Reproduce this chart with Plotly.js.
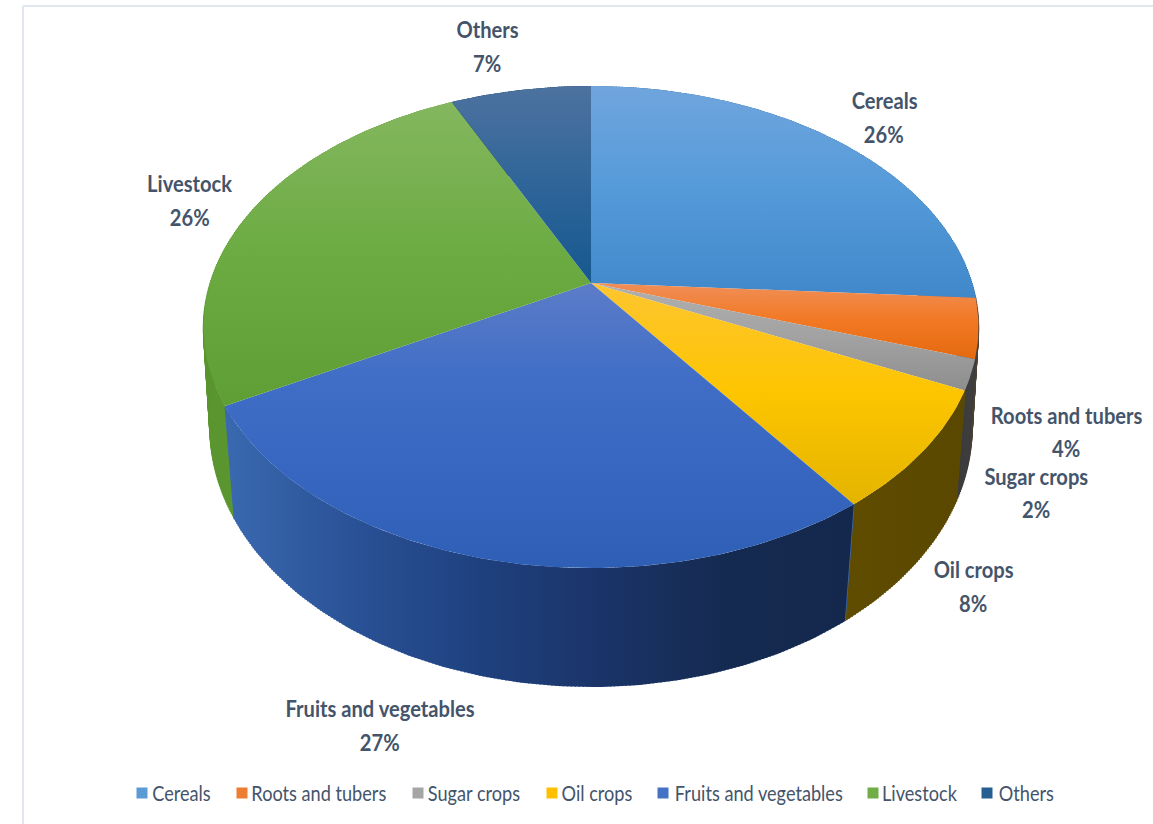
<!DOCTYPE html>
<html>
<head>
<meta charset="utf-8">
<script src="https://cdn.plot.ly/plotly-3.0.1.min.js"></script>
<style>html,body{margin:0;padding:0;background:#fff}#chart{width:1153px;height:824px}</style>
</head>
<body>
<div id="chart"></div>
<script>
// Production shares, in percent, clockwise from twelve o'clock
const categories = ["Cereals", "Roots and tubers", "Sugar crops", "Oil crops", "Fruits and vegetables", "Livestock", "Others"];
const shares = [26, 4, 2, 8, 27, 26, 7];

// Flat key colours for the legend swatches
const swatchColors = ["#5b9bd5", "#ed7d31", "#a5a5a5", "#ffc000", "#4472c4", "#70ad47", "#255e91"];
// Light-to-dark ramp down each top face
const topRamps = [
  ["#70a5dd", "#549ad9", "#4088ca"],
  ["#f08f58", "#f27823", "#e4690f"],
  ["#b0b0b0", "#a2a2a2", "#8e8e8e"],
  ["#fec530", "#fdc500", "#e4b400"],
  ["#5c7cc8", "#406ec6", "#3766c0", "#2e5fb5"],
  ["#84b75f", "#6cab42", "#5e9e34"],
  ["#4d729f", "#2f6599", "#15588f"]
];
// Left-to-right ramp around each outer wall
const wallRamps = [
  ["#2f6ea5", "#2f6ea5"],
  ["#4a4038", "#3d3d3d"],
  ["#3a3a3a", "#3f3f3f"],
  ["#5f4c00", "#5a4800"],
  ["#3a69b0", "#2a5297", "#1f417f", "#1a3468", "#152a50", "#14284d"],
  ["#5a9530", "#5c9a30"],
  ["#163a60", "#163a60"]
];

// Perspective disc: the rim of the top face and the rim of the base
const centerX = 591;
const topRim = { cy: 283, rx: 381, ry: 233, k: 0.1827 };
const baseRim = { cy: 387, rx: 376, ry: 252, k: 0.16 };

function project(rim, deg) {
  const a = deg * Math.PI / 180, u = Math.sin(a), v = Math.cos(a), w = 1 + rim.k * v;
  return [centerX + rim.rx * u / w, rim.cy - rim.ry * v / w];
}
function arc(rim, from, to) {
  const n = Math.max(2, Math.ceil(Math.abs(to - from))), pts = [];
  for (let i = 0; i <= n; i++) pts.push(project(rim, from + (to - from) * i / n));
  return pts;
}

// Slice boundaries in degrees, accumulated from the shares
const total = shares.reduce((s, v) => s + v, 0);
let running = 0;
const spans = shares.map(v => { const from = running; running += v; return [from * 360 / total, running * 360 / total]; });

const ramp = colors => colors.map((c, i) => [i / (colors.length - 1), c]);
function polygon(x, y, fillgradient) {
  return {
    type: "scatter", mode: "lines", x, y,
    fill: "toself", fillgradient, line: { width: 0 }, hoverinfo: "skip", showlegend: false
  };
}

// Upright rules down a wall; they fill out the silhouette where the wall turns away
function wallRules(from, to, color) {
  const x = [], y = [];
  for (let d = from; d <= to; d += 0.5) {
    const a = project(topRim, d), b = project(baseRim, d);
    x.push(a[0], b[0], null); y.push(a[1], b[1], null);
  }
  return { type: "scatter", mode: "lines", x, y, line: { color, width: 1.5 }, hoverinfo: "skip", showlegend: false };
}

// Outer walls, furthest first so the nearer ones overlap them
const wallOrder = spans.map((s, i) => i).sort((a, b) =>
  Math.cos((spans[b][0] + spans[b][1]) * Math.PI / 360) - Math.cos((spans[a][0] + spans[a][1]) * Math.PI / 360));
const walls = [];
wallOrder.forEach(i => {
  const [from, to] = spans[i];
  const outline = arc(topRim, from, to).concat(arc(baseRim, to, from));
  const xs = outline.map(p => p[0]), ys = outline.map(p => p[1]);
  const gradient = { type: "horizontal", start: Math.min(...xs), stop: Math.max(...xs), colorscale: ramp(wallRamps[i]) };
  walls.push(wallRules(from, to, wallRamps[i][0]));
  walls.push(polygon(xs, ys, gradient));
});

// Top faces: each slice fans out from the projected centre of the disc
const faces = spans.map(([from, to], i) => {
  const pts = [[centerX, topRim.cy]].concat(arc(topRim, from, to));
  const xs = pts.map(p => p[0]), ys = pts.map(p => p[1]);
  return polygon(xs, ys, { type: "vertical", start: Math.min(...ys), stop: Math.max(...ys), colorscale: ramp(topRamps[i]) });
});

// Legend row
const legendY = 792;
const swatchX = [142, 242, 418, 552, 663, 873, 987];
const legendTextX = [181, 319, 474, 597, 759, 920, 1026];
const legendSwatches = {
  type: "scatter", mode: "markers", x: swatchX, y: swatchX.map(() => 793),
  marker: { symbol: "square", size: 11, color: swatchColors }, hoverinfo: "skip", showlegend: false
};

const FONT = "Lato, Liberation Sans, sans-serif";
const INK = "#44546a";
const LABEL_SIZE = 23, LEGEND_SIZE = 22;
const text = (x, y, t, size, weight) => ({
  x, y, xref: "x", yref: "y", text: t, showarrow: false,
  xanchor: "center", yanchor: "middle", font: { family: FONT, size, color: INK, weight }
});

// Data label centres: [x, name line y, value line y]
const labelSpots = [[884, 100, 134], [1066, 415, 448], [1036, 476, 509], [973, 569, 603], [380, 708, 742], [190, 183, 217], [487, 29, 63]];
const annotations = [];
categories.forEach((name, i) => {
  const [x, y1, y2] = labelSpots[i];
  annotations.push(text(x, y1, name, LABEL_SIZE, 700));
  annotations.push(text(x, y2, shares[i] + "%", LABEL_SIZE, 700));
  annotations.push(text(legendTextX[i], legendY, name, LEGEND_SIZE, 400));
});

const layout = {
  width: 1153, height: 824, margin: { l: 0, r: 0, t: 0, b: 0 },
  paper_bgcolor: "#fff", plot_bgcolor: "#fff", showlegend: false,
  xaxis: { range: [0, 1153], visible: false, fixedrange: true },
  yaxis: { range: [824, 0], visible: false, fixedrange: true },
  annotations,
  shapes: [
    { type: "line", xref: "x", yref: "y", x0: 23, x1: 1153, y0: 6, y1: 6, line: { color: "#e2e6ef", width: 2 } },
    { type: "line", xref: "x", yref: "y", x0: 23, x1: 23, y0: 6, y1: 824, line: { color: "#e2e6ef", width: 2 } }
  ]
};

// The labels use a tall, narrow letterform, so squeeze the set type horizontally
const squeezeBySize = { [LABEL_SIZE]: 0.875, [LEGEND_SIZE]: 0.825 };
Plotly.newPlot("chart", walls.concat(faces, [legendSwatches]), layout, { displayModeBar: false, staticPlot: true }).then(() => {
  document.querySelectorAll("#chart .annotation-text").forEach(el => {
    const size = parseFloat(getComputedStyle(el).fontSize);
    el.style.transformBox = "fill-box";
    el.style.transformOrigin = "center";
    el.style.transform = "scaleX(" + squeezeBySize[size] + ")";
  });
});
</script>
</body>
</html>
